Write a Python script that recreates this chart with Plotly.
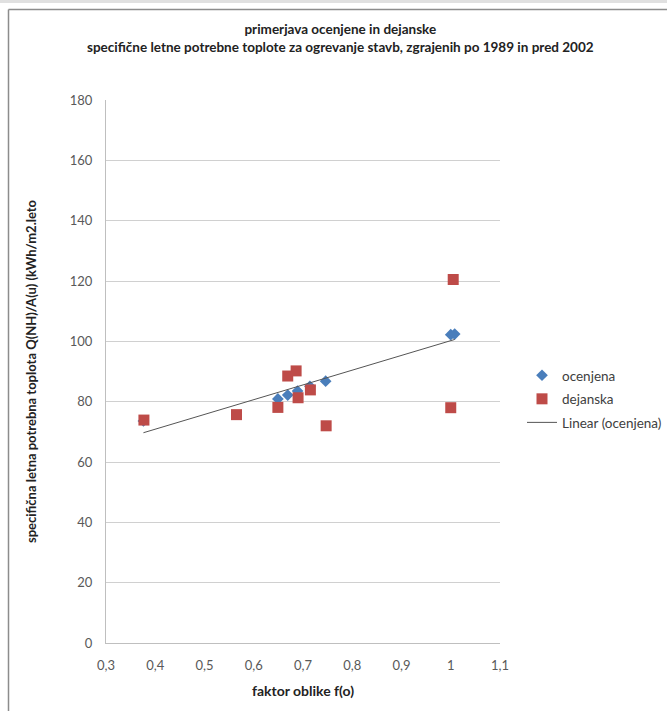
import numpy as np
import plotly.graph_objects as go

# faktor oblike f(o) and specific annual heating demand
ocenjena_x = [0.376, 0.649, 0.669, 0.689, 0.714, 0.746, 1.000, 1.008]
ocenjena_y = [73.6, 80.9, 82.2, 83.5, 85.1, 86.8, 102.2, 102.4]

dejanska_x = [0.377, 0.565, 0.649, 0.669, 0.686, 0.690, 0.715, 0.747, 1.000, 1.005]
dejanska_y = [73.9, 75.7, 78.1, 88.5, 90.2, 81.3, 83.9, 72.0, 78.0, 120.5]

x_ticks = [0.3, 0.4, 0.5, 0.6, 0.7, 0.8, 0.9, 1.0, 1.1]
x_tick_labels = ["0,3", "0,4", "0,5", "0,6", "0,7", "0,8", "0,9", "1", "1,1"]
y_ticks = [0, 20, 40, 60, 80, 100, 120, 140, 160, 180]

# linear trendline fitted to the estimated values
slope, intercept = np.polyfit(ocenjena_x, ocenjena_y, 1)
trend_x = np.array([min(ocenjena_x), max(ocenjena_x)])
trend_y = slope * trend_x + intercept

FONT = "Lato, Carlito, Calibri, sans-serif"
W, H = 667, 711
L, R, T, B = 106, 167, 100, 68
pw, ph = W - L - R, H - T - B


def px_x(px):
    return (px - L) / pw


def px_y(py):
    return (H - B - py) / ph


fig = go.Figure()
fig.add_trace(go.Scatter(
    x=ocenjena_x, y=ocenjena_y, mode="markers", name="ocenjena",
    legendgroup="a",
    marker=dict(symbol="diamond", size=9, color="#4a7ebb"),
))
fig.add_trace(go.Scatter(
    x=dejanska_x, y=dejanska_y, mode="markers", name="dejanska",
    legendgroup="b",
    marker=dict(symbol="square", size=11, color="#be4b48"),
))
fig.add_trace(go.Scatter(
    x=trend_x, y=trend_y, mode="lines", name="Linear (ocenjena)",
    legendgroup="c",
    line=dict(color="#555555", width=1),
))

fig.update_layout(
    width=W, height=H,
    margin=dict(l=L, r=R, t=T, b=B, autoexpand=False),
    paper_bgcolor="white", plot_bgcolor="white",
    separators=",.",
    font=dict(family=FONT, size=13, color="#404040"),
    showlegend=True,
    legend=dict(
        x=px_x(522), y=px_y(360), xanchor="left", yanchor="top",
        font=dict(family=FONT, size=13.5, color="#404040"),
        bgcolor="rgba(0,0,0,0)", itemwidth=30, tracegroupgap=3,
    ),
    xaxis=dict(
        range=[0.3, 1.1], tickvals=x_ticks, ticktext=x_tick_labels,
        showgrid=False, zeroline=False, showline=True,
        linecolor="#bfbfbf", linewidth=1, ticks="",
        tickfont=dict(family=FONT, size=13, color="#595959"),
        ticklabelstandoff=10,
        title=dict(text="<b>faktor oblike f(o)</b>", standoff=14,
                   font=dict(family=FONT, size=14, color="#222222")),
    ),
    yaxis=dict(
        range=[0, 180], tickvals=y_ticks,
        showgrid=True, gridcolor="#d0d0d0", gridwidth=1,
        zeroline=False, showline=True, linecolor="#bfbfbf", linewidth=1,
        ticks="", tickfont=dict(family=FONT, size=13, color="#595959"),
        ticklabelstandoff=10,
        title=dict(text="<b>specifična letna potrebna toplota Q(NH)/A(u) (kWh/m2.leto</b>",
                   standoff=30,
                   font=dict(family=FONT, size=13, color="#222222")),
    ),
    annotations=[
        dict(text="<b>primerjava ocenjene in dejanske</b><br>"
                  "<b>specifične letne potrebne toplote za ogrevanje stavb, zgrajenih po 1989 in pred 2002</b>",
             xref="paper", yref="paper", x=px_x(340), y=px_y(19),
             xanchor="center", yanchor="top", showarrow=False, align="center",
             font=dict(family=FONT, size=13.5, color="#222222")),
    ],
    shapes=[
        # light band and chart-area frame
        dict(type="rect", xref="paper", yref="paper",
             x0=px_x(0), x1=px_x(W), y0=px_y(0), y1=px_y(3),
             fillcolor="#e0e0e0", line=dict(width=0), layer="below"),
        dict(type="line", xref="paper", yref="paper",
             x0=px_x(8.5), x1=px_x(W), y0=px_y(9.5), y1=px_y(9.5),
             line=dict(color="#8c8c8c", width=1.5)),
        dict(type="line", xref="paper", yref="paper",
             x0=px_x(8.5), x1=px_x(8.5), y0=px_y(9.5), y1=px_y(H),
             line=dict(color="#8c8c8c", width=1.5)),
    ],
)

fig.write_html("out.html")
